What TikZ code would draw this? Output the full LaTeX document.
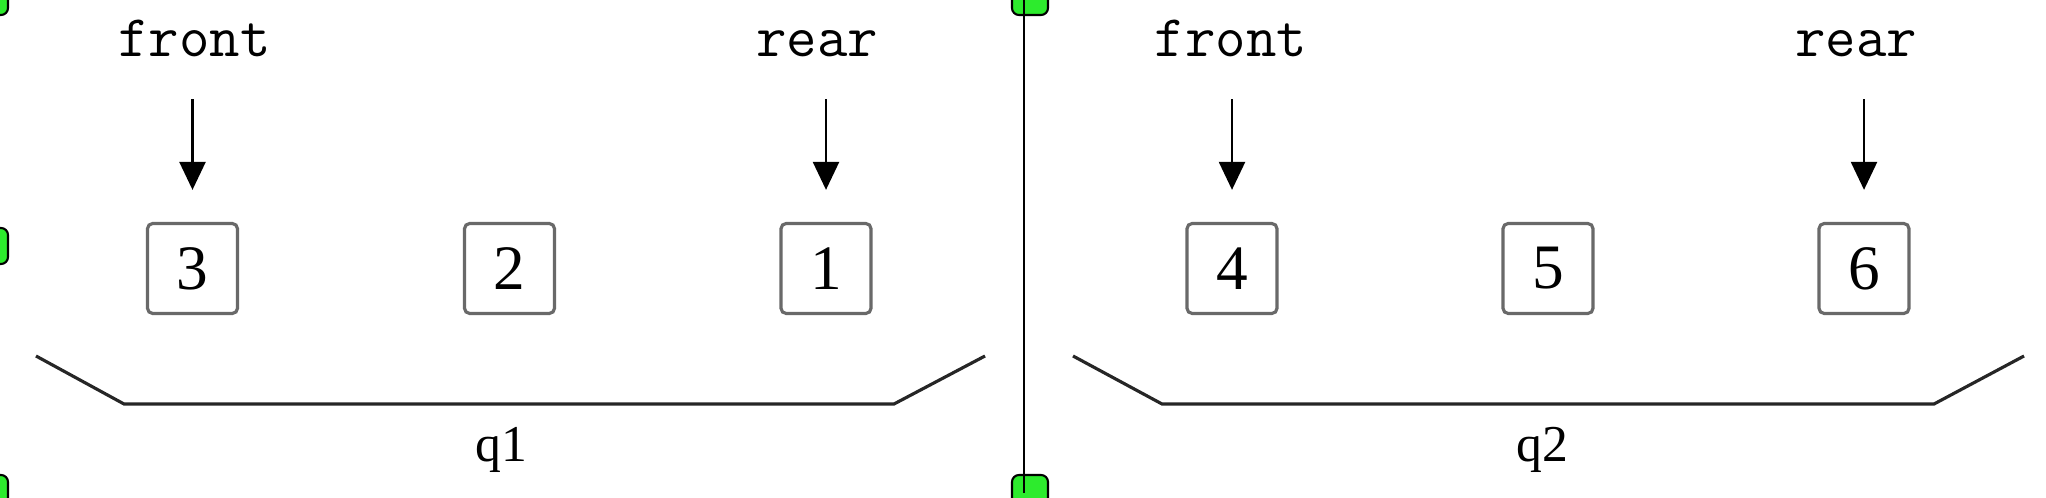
\documentclass[tikz,border=0pt]{standalone}
\usepackage{fontspec}
\setmainfont{Liberation Serif}
\usetikzlibrary{arrows.meta}
\definecolor{boxgray}{RGB}{105,105,105}
\definecolor{handlegreen}{RGB}{45,235,45}
\tikzset{
   elem/.style={draw=boxgray, line width=0.9pt, rounded corners=1.5pt,
      minimum width=0.9cm, minimum height=0.9cm, inner sep=0pt,
      font=\fontsize{18}{20}\selectfont},
   ptrlabel/.style={font=\ttfamily\fontsize{16.8}{19}\selectfont,
      inner sep=0pt, anchor=base},
   pointer/.style={-{Triangle[length=0.28cm,width=0.26cm]}, line width=0.7pt,
      shorten <=0.41cm, shorten >=0.32cm},
   bracket/.style={line width=0.9pt, draw=black!85},
   qname/.style={font=\fontsize{14.7}{17}\selectfont, inner sep=0pt, anchor=base},
   handle/.style={draw=black, fill=handlegreen, line width=0.6pt,
      rounded corners=2pt, minimum size=0.36cm, inner sep=0pt},
    }
\begin{document}
\begin{tikzpicture}[x=0.01cm, y=-0.01cm]
        \useasboundingbox (0,0) rectangle (2046,498);
        % selection handles
        \foreach \y [count=\i] in {-3,246,493}
            \node[handle] (hl\i) at (-10,\y) {};
        \node[handle] (ht) at (1030,-3) {};
        \node[handle] (hb) at (1030,493) {};
        \draw[line width=0.7pt] (1024,-3) coordinate (dtop) -- (1024,493) coordinate (dbot);
        % queue q1
        \foreach \n/\x in {3/192.5, 2/509.5, 1/826}
            \node[elem] (b\n) at (\x,268.5) {\n};
        \node[ptrlabel] (front1) at (194.5,57) {front};
        \node[ptrlabel] (rear1) at (817,57) {rear};
        \draw[pointer] (b3 |- front1.south) -- (b3.north);
        \draw[pointer] (b1 |- rear1.south) -- (b1.north);
        \draw[bracket] (36,356) -- (124,404) -- (894,404) -- (985,356);
        \node[qname] (q1) at (501,462) {q1};
        % queue q2
        \foreach \n/\x in {4/1232, 5/1548, 6/1864}
            \node[elem] (b\n) at (\x,268.5) {\n};
        \node[ptrlabel] (front2) at (1231,57) {front};
        \node[ptrlabel] (rear2) at (1856,57) {rear};
        \draw[pointer] (b4 |- front2.south) -- (b4.north);
        \draw[pointer] (b6 |- rear2.south) -- (b6.north);
        \draw[bracket] (1073,356) -- (1162,404) -- (1934,404) -- (2024,356);
        \node[qname] (q2) at (1542,462) {q2};
    \end{tikzpicture}
\end{document}
